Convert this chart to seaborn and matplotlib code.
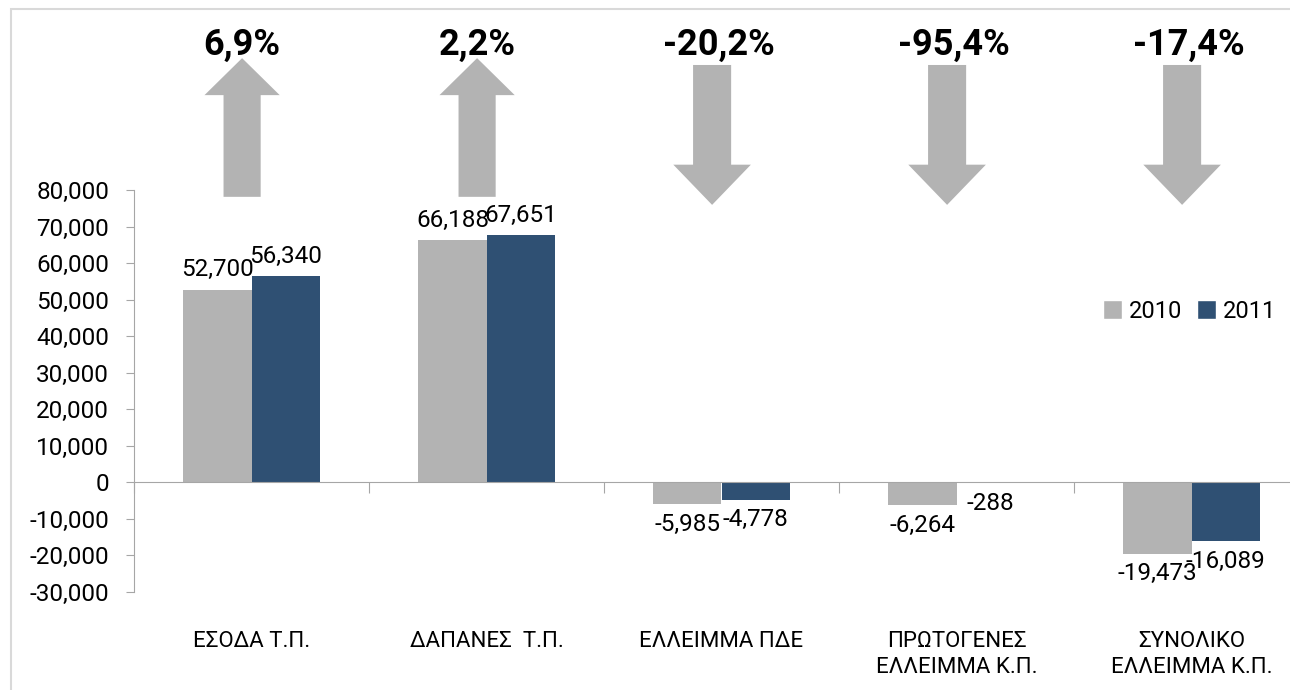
import matplotlib
matplotlib.use("Agg")
import matplotlib.pyplot as plt
import matplotlib.transforms as mtransforms
from matplotlib.patches import FancyArrow, Rectangle, Patch
from matplotlib.ticker import FuncFormatter
import pandas as pd
import seaborn as sns

categories = ["ΕΣΟΔΑ Τ.Π.", "ΔΑΠΑΝΕΣ  Τ.Π.", "ΕΛΛΕΙΜΜΑ ΠΔΕ",
              "ΠΡΩΤΟΓΕΝΕΣ\nΕΛΛΕΙΜΜΑ Κ.Π.", "ΣΥΝΟΛΙΚΟ\nΕΛΛΕΙΜΜΑ Κ.Π."]
values_2010 = [52700, 66188, -5985, -6264, -19473]
values_2011 = [56340, 67651, -4778, -288, -16089]
years = ["2010", "2011"]
colors = {"2010": "#b3b3b3", "2011": "#2f5073"}

df = pd.DataFrame({
    "cat": categories * 2,
    "year": [years[0]] * 5 + [years[1]] * 5,
    "value": values_2010 + values_2011,
})

sns.set_style("white")
plt.rcParams["font.family"] = ["Roboto", "DejaVu Sans"]
plt.rcParams["text.color"] = "black"
plt.rcParams["xtick.color"] = "black"
plt.rcParams["ytick.color"] = "black"

fig = plt.figure(figsize=(12.9, 6.9), dpi=100)
ax = fig.add_axes([134 / 1290, 98 / 690, 1175 / 1290, 402 / 690])

sns.barplot(data=df, x="cat", y="value", hue="year", palette=colors,
            width=0.58, saturation=1, ax=ax, legend=False,
            edgecolor="none", linewidth=0)

for cont in ax.containers:
    ax.bar_label(cont, labels=[f"{b.get_height():,.0f}" for b in cont],
                 fontsize=17.5, padding=6)

ax.set_xlim(-0.5, 4.5)
ax.set_ylim(-30000, 80000)
ax.set_yticks(range(-30000, 80001, 10000))
ax.yaxis.set_major_formatter(FuncFormatter(lambda v, p: f"{v:,.0f}"))
ax.tick_params(axis="y", labelsize=17.5, length=6, pad=12, color="#a6a6a6",
               labelcolor="black", left=True, direction="out")
ax.set_xlabel("")
ax.set_ylabel("")

for side in ["top", "right"]:
    ax.spines[side].set_visible(False)
ax.spines["left"].set_color("#a6a6a6")
ax.spines["bottom"].set_position(("data", 0))
ax.spines["bottom"].set_color("#a6a6a6")
ax.set_xticks([i + 0.5 for i in range(-1, 5)])
ax.set_xticklabels([])
ax.tick_params(axis="x", bottom=True, length=8, color="#a6a6a6", direction="out")

sec = ax.secondary_xaxis(0)
sec.set_xticks(range(len(categories)))
sec.set_xticklabels(categories, fontsize=16, linespacing=1.3, va="top")
sec.tick_params(length=0, pad=28, labelcolor="black")
sec.spines["bottom"].set_visible(False)

# percentage change arrows
trans = mtransforms.blended_transform_factory(ax.transData, ax.transAxes)
for i in range(len(categories)):
    change = abs(values_2011[i]) / abs(values_2010[i]) - 1
    x = i - 0.04
    if change > 0:
        arr = FancyArrow(x, 0.983, 0, 0.345, width=0.158, head_width=0.32,
                         head_length=0.092, length_includes_head=True,
                         transform=trans, color="#b3b3b3", lw=0, clip_on=False)
    else:
        arr = FancyArrow(x, 1.311, 0, -0.348, width=0.162, head_width=0.33,
                         head_length=0.1, length_includes_head=True,
                         transform=trans, color="#b3b3b3", lw=0, clip_on=False)
    ax.add_patch(arr)
    label = f"{change * 100:.1f}%".replace(".", ",")
    ax.text(x + (0.03 if change < 0 else 0), 1.36, label, transform=trans,
            ha="center", va="center", fontsize=26, fontweight="bold")

handles = [Patch(facecolor=colors[y], label=y) for y in years]
fig.legend(handles=handles, loc="center left", bbox_to_anchor=(1082 / 1290, 0.549),
           ncol=2, frameon=False, fontsize=17, handlelength=0.8, handleheight=0.8,
           handletextpad=0.3, columnspacing=0.6)

fig.patches.append(Rectangle((11 / 1290, -0.05), 1.2, 1.037, transform=fig.transFigure,
                             fill=False, edgecolor="#d9d9d9", lw=1.5))

fig.savefig("out.png", dpi=100)
